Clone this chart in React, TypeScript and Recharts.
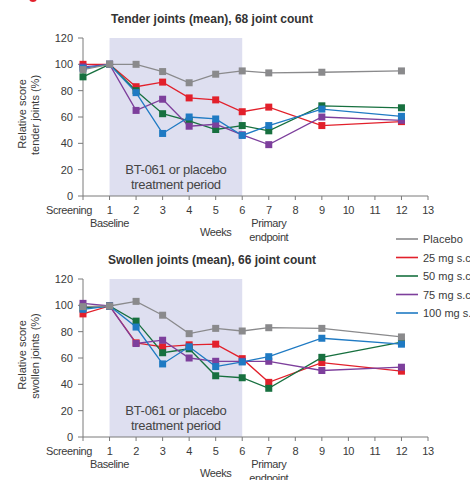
import React from 'react';
import { LineChart, Line, XAxis, YAxis, ReferenceArea } from 'recharts';

const weeks = [0, 1, 2, 3, 4, 5, 6, 7, 9, 12];
const xTicks = [0, 1, 2, 3, 4, 5, 6, 7, 8, 9, 10, 11, 12, 13];
const yTicks = [0, 20, 40, 60, 80, 100, 120];

const seriesNames = ['Placebo', '25 mg s.c.', '50 mg s.c.', '75 mg s.c.', '100 mg s.c.'];
const seriesKeys = ['placebo', 'mg25', 'mg50', 'mg75', 'mg100'];
const seriesColors = ['#8a8a8c', '#e2202b', '#17703f', '#7d3f9c', '#1f7ac3'];

// Tender joints (mean), 68 joint count
const tenderPlacebo = [96, 100, 100, 94.5, 86, 92.5, 95, 93.5, 94, 95];
const tender25 = [100, 100, 83, 86.5, 74.5, 73, 64, 67.5, 53.5, 56.5];
const tender50 = [90.5, 100, 80, 62.5, 57, 50.5, 53.5, 49.5, 68.5, 67];
const tender75 = [98, 100, 65, 73.5, 53, 54.5, 46.5, 39, 60, 57.5];
const tender100 = [97, 100, 78.5, 47.5, 60, 58.5, 46, 53.5, 66, 60.5];

// Swollen joints (mean), 66 joint count
const swollenPlacebo = [99, 99.5, 103, 92.5, 78.5, 82.5, 80.5, 83, 82.5, 76];
const swollen25 = [93.5, 99.5, 71.5, 68.5, 70, 70.5, 59.5, 41.5, 56.5, 50];
const swollen50 = [98, 99.5, 88, 64, 67, 46.5, 45, 37, 60.5, 72];
const swollen75 = [101.5, 99.5, 71, 73.5, 60, 57.5, 57.5, 57.5, 50.5, 53];
const swollen100 = [97, 99.5, 83.5, 55.5, 68.5, 53.5, 57, 61, 75, 70.5];

const buildRows = (cols: number[][]) =>
  weeks.map((w, i) => {
    const row: Record<string, number> = { week: w };
    seriesKeys.forEach((k, j) => {
      row[k] = cols[j][i];
    });
    return row;
  });

const tenderData = buildRows([tenderPlacebo, tender25, tender50, tender75, tender100]);
const swollenData = buildRows([swollenPlacebo, swollen25, swollen50, swollen75, swollen100]);

const FONT = '"Liberation Sans", Arial, Helvetica, sans-serif';
const TXT = '#3a3a3a';
const AXIS = '#7a7a7a';

const SquareDot = (props: any) => {
  const { cx, cy, stroke } = props;
  if (cx == null || cy == null) return null;
  return <rect x={cx - 3.5} y={cy - 3.5} width={7} height={7} fill={stroke} />;
};

const XTick = (props: any) => {
  const { x, y, payload } = props;
  const v = payload.value;
  const common = { fontFamily: FONT, fontSize: 11, fill: TXT, letterSpacing: -0.4 } as any;
  return (
    <g>
      {v === 0 ? (
        <text x={x + 9} y={y + 12} textAnchor="end" {...common}>Screening</text>
      ) : (
        <text x={x} y={y + 12} textAnchor="middle" {...common}>{v}</text>
      )}
      {v === 1 && (
        <text x={x} y={y + 25} textAnchor="middle" {...common}>Baseline</text>
      )}
      {v === 5 && (
        <text x={x} y={y + 34} textAnchor="middle" {...common}>Weeks</text>
      )}
      {v === 7 && (
        <g>
          <text x={x} y={y + 25} textAnchor="middle" {...common}>Primary</text>
          <text x={x} y={y + 39} textAnchor="middle" {...common}>endpoint</text>
        </g>
      )}
    </g>
  );
};

const TreatmentLabel = (props: any) => {
  const { viewBox } = props;
  if (!viewBox) return null;
  const cx = viewBox.x + viewBox.width / 2;
  const by = viewBox.y + viewBox.height;
  return (
    <text textAnchor="middle" fontFamily={FONT} fontSize={13} fill="#454545" letterSpacing={-0.3}>
      <tspan x={cx} y={by - 22}>BT-061 or placebo</tspan>
      <tspan x={cx} y={by - 7}>treatment period</tspan>
    </text>
  );
};

const Panel = ({ data, top, height }: { data: any[]; top: number; height: number }) => (
  <div style={{ position: 'absolute', left: 0, top, width: 470, height }}>
    <LineChart
      width={470}
      height={height}
      data={data}
      margin={{ top: 38, right: 42, left: 0, bottom: 0 }}
    >
      <ReferenceArea
        x1={1}
        x2={6}
        y1={0}
        y2={120}
        fill="#dedff0"
        fillOpacity={1}
        stroke="none"
        ifOverflow="extendDomain"
        label={<TreatmentLabel />}
      />
      <XAxis
        dataKey="week"
        type="number"
        domain={[0, 13]}
        ticks={xTicks}
        interval={0}
        tickSize={4}
        height={height - 38 - 158}
        stroke={AXIS}
        tick={<XTick />}
        allowDecimals={false}
      />
      <YAxis
        type="number"
        domain={[0, 120]}
        ticks={yTicks}
        width={83}
        tickSize={5}
        tickMargin={5}
        stroke={AXIS}
        tick={{ fontFamily: FONT, fontSize: 11, fill: TXT }}
      />
      {[1, 2, 3, 4, 0].map((j) => (
        <Line
          key={seriesKeys[j]}
          dataKey={seriesKeys[j]}
          stroke={seriesColors[j]}
          strokeWidth={1.3}
          dot={<SquareDot />}
          activeDot={false}
          isAnimationActive={false}
          type="linear"
        />
      ))}
    </LineChart>
  </div>
);

export default function App() {
  return (
    <div
      style={{
        position: 'absolute',
        left: 0,
        top: 0,
        width: 470,
        height: 480,
        overflow: 'hidden',
        background: '#fff',
      }}
    >
      <Panel data={tenderData} top={0} height={250} />
      <Panel data={swollenData} top={241} height={239} />
      <svg
        width={470}
        height={480}
        style={{ position: 'absolute', left: 0, top: 0, pointerEvents: 'none' }}
      >
        <circle cx={33} cy={-2} r={4} fill="#e2202b" />
        <text x={212} y={23} textAnchor="middle" fontFamily={FONT} fontSize={12} fontWeight="bold" fill="#333">
          Tender joints (mean), 68 joint count
        </text>
        <text x={212} y={264} textAnchor="middle" fontFamily={FONT} fontSize={12} fontWeight="bold" fill="#333">
          Swollen joints (mean), 66 joint count
        </text>
        <text transform="translate(26,114) rotate(-90)" textAnchor="middle" fontFamily={FONT} fontSize={11} fill={TXT}>
          Relative score
        </text>
        <text transform="translate(39,115) rotate(-90)" textAnchor="middle" fontFamily={FONT} fontSize={11} fill={TXT}>
          tender joints (%)
        </text>
        <text transform="translate(26,355) rotate(-90)" textAnchor="middle" fontFamily={FONT} fontSize={11} fill={TXT}>
          Relative score
        </text>
        <text transform="translate(39,356) rotate(-90)" textAnchor="middle" fontFamily={FONT} fontSize={11} fill={TXT}>
          swollen joints (%)
        </text>
        {seriesNames.map((name, i) => {
          const y = 239 + i * 18.5;
          return (
            <g key={name}>
              <line x1={396} x2={418} y1={y} y2={y} stroke={seriesColors[i]} strokeWidth={1.6} />
              <text x={423} y={y + 4} fontFamily={FONT} fontSize={11} fill={TXT}>
                {name}
              </text>
            </g>
          );
        })}
      </svg>
    </div>
  );
}
